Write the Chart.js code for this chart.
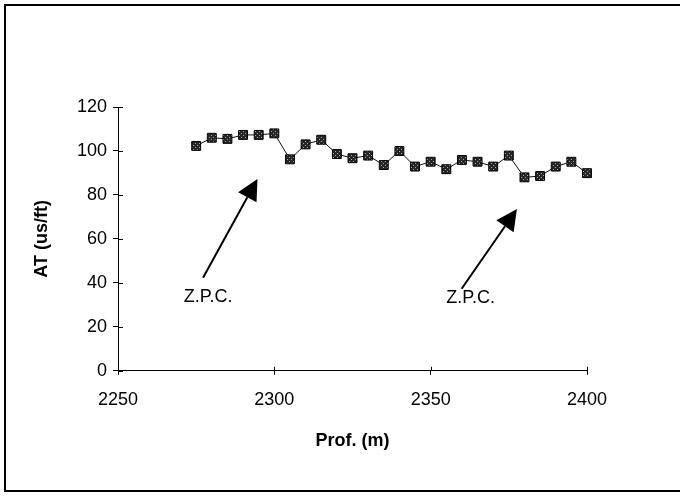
<!DOCTYPE html>
<html>
<head>
<meta charset="utf-8">
<script src="https://cdn.jsdelivr.net/npm/chart.js@4"></script>
<style>
  html, body { margin: 0; padding: 0; background: #fff; }
  #wrap { width: 680px; height: 497px; }
</style>
</head>
<body>
<div id="wrap"><canvas id="c" width="680" height="497"></canvas></div>
<script>
// ---- data ----
const depths = [2275, 2280, 2285, 2290, 2295, 2300, 2305, 2310, 2315, 2320, 2325, 2330, 2335,
                2340, 2345, 2350, 2355, 2360, 2365, 2370, 2375, 2380, 2385, 2390, 2395, 2400];
const atValues = [102.3, 106, 105.5, 107.3, 107.3, 108, 96.2, 103, 105.1, 98.6, 96.7, 97.9, 93.6,
                  100, 92.9, 95.1, 91.7, 95.9, 95.1, 92.9, 97.9, 88, 88.6, 92.9, 95.1, 89.9];
const xTickValues = [2250, 2300, 2350, 2400];
const yTickValues = [0, 20, 40, 60, 80, 100, 120];
const xTitle = 'Prof. (m)';
const yTitle = 'AT (us/ft)';
// annotations: label text, label position, arrow tail, arrow tip (data units)
const noteLabels = ['Z.P.C.', 'Z.P.C.'];
const noteLabelX = [2278.8, 2362.8];
const noteLabelY = [33.4, 33.2];
const arrowTailX = [2277.2, 2359.9];
const arrowTailY = [42.3, 37.3];
const arrowTipX = [2294.6, 2377.6];
const arrowTipY = [87.3, 73.6];

const FONT = "'Liberation Sans', Arial, sans-serif";

// speckled marker fill
function makePattern() {
  const p = document.createElement('canvas');
  p.width = 4; p.height = 4;
  const g = p.getContext('2d');
  g.fillStyle = '#262626'; g.fillRect(0, 0, 4, 4);
  g.fillStyle = '#a8a8a8'; g.fillRect(1, 1, 1, 1); g.fillRect(3, 3, 1, 1);
  return g.createPattern(p, 'repeat');
}

const frameAndNotes = {
  id: 'frameAndNotes',
  beforeDraw(chart) {
    const ctx = chart.ctx;
    ctx.save();
    ctx.fillStyle = '#fff';
    ctx.fillRect(0, 0, chart.width, chart.height);
    ctx.strokeStyle = '#000';
    ctx.lineWidth = 2;
    ctx.beginPath();
    ctx.moveTo(chart.width + 2, 5);
    ctx.lineTo(5, 5);
    ctx.lineTo(5, 491);
    ctx.lineTo(chart.width + 2, 491);
    ctx.stroke();
    ctx.restore();
  },
  afterDatasetsDraw(chart) {
    const ctx = chart.ctx;
    const xs = chart.scales.x, ys = chart.scales.y;
    ctx.save();
    // inner half of tick marks
    ctx.strokeStyle = '#000';
    ctx.lineWidth = 1;
    const ca = chart.chartArea;
    ctx.beginPath();
    yTickValues.forEach(v => {
      const py = Math.round(ys.getPixelForValue(v)) + 0.5;
      ctx.moveTo(ca.left, py); ctx.lineTo(ca.left + 5, py);
    });
    xTickValues.forEach(v => {
      const px = Math.round(xs.getPixelForValue(v)) + 0.5;
      ctx.moveTo(px, ca.bottom); ctx.lineTo(px, ca.bottom - 4);
    });
    ctx.stroke();
    // arrows and labels
    for (let i = 0; i < noteLabels.length; i++) {
      const tx = xs.getPixelForValue(arrowTailX[i]), ty = ys.getPixelForValue(arrowTailY[i]);
      const hx = xs.getPixelForValue(arrowTipX[i]), hy = ys.getPixelForValue(arrowTipY[i]);
      const dx = hx - tx, dy = hy - ty, len = Math.hypot(dx, dy);
      const ux = dx / len, uy = dy / len;
      const headLen = 21, headHalf = 10.5;
      const bx = hx - ux * headLen, by = hy - uy * headLen;
      ctx.lineWidth = 2;
      ctx.beginPath();
      ctx.moveTo(tx, ty); ctx.lineTo(bx, by);
      ctx.stroke();
      ctx.fillStyle = '#000';
      ctx.beginPath();
      ctx.moveTo(hx, hy);
      ctx.lineTo(bx - uy * headHalf, by + ux * headHalf);
      ctx.lineTo(bx + uy * headHalf, by - ux * headHalf);
      ctx.closePath();
      ctx.fill();
      ctx.font = '18px ' + FONT;
      ctx.textAlign = 'center';
      ctx.textBaseline = 'middle';
      ctx.fillText(noteLabels[i], xs.getPixelForValue(noteLabelX[i]), ys.getPixelForValue(noteLabelY[i]));
    }
    ctx.restore();
  }
};

new Chart(document.getElementById('c'), {
  type: 'scatter',
  data: {
    datasets: [{
      data: depths.map((d, i) => ({ x: d, y: atValues[i] })),
      showLine: true,
      clip: false,
      borderColor: '#111',
      borderWidth: 1,
      pointStyle: 'rect',
      pointRadius: 6.3,
      pointHoverRadius: 6.3,
      pointBackgroundColor: makePattern(),
      pointBorderColor: '#000',
      pointBorderWidth: 1
    }]
  },
  options: {
    responsive: false,
    devicePixelRatio: 1,
    animation: false,
    events: [],
    layout: { padding: { left: 27, right: 93, top: 107, bottom: 45 } },
    plugins: { legend: { display: false }, tooltip: { enabled: false } },
    scales: {
      x: {
        type: 'linear',
        min: 2250, max: 2400,
        afterBuildTicks: s => { s.ticks = xTickValues.map(v => ({ value: v })); },
        ticks: { color: '#000', font: { family: FONT, size: 18 }, padding: 14, maxRotation: 0,
                 callback: v => String(v) },
        grid: { display: true, drawOnChartArea: false, tickLength: 4, color: '#000', lineWidth: 1 },
        border: { display: true, color: '#000', width: 1 },
        title: { display: true, text: xTitle, color: '#000', font: { family: FONT, size: 18, weight: 'bold' }, padding: { top: 6, bottom: 0 } }
      },
      y: {
        type: 'linear',
        min: 0, max: 120,
        afterBuildTicks: s => { s.ticks = yTickValues.map(v => ({ value: v })); },
        afterFit: s => { s.width = 91; },
        ticks: { color: '#000', font: { family: FONT, size: 18 }, padding: 6, callback: v => String(v) },
        grid: { display: true, drawOnChartArea: false, tickLength: 5, color: '#000', lineWidth: 1 },
        border: { display: true, color: '#000', width: 1 },
        title: { display: true, text: yTitle, color: '#000', font: { family: FONT, size: 18, weight: 'bold' }, padding: { top: 4, bottom: 4 } }
      }
    }
  },
  plugins: [frameAndNotes]
});
</script>
</body>
</html>
